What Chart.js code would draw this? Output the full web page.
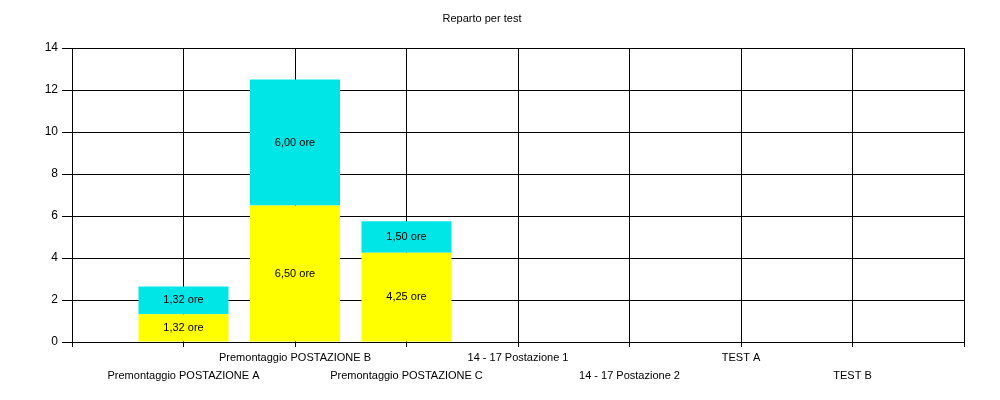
<!DOCTYPE html>
<html lang="it">
<head>
    <meta charset="UTF-8">
    <title>Reparto per test</title>
    <script src="https://cdn.jsdelivr.net/npm/chart.js"></script>
    <style>
        html, body { margin: 0; padding: 0; background: #fff; }
        #wrap { width: 1000px; height: 400px; }
    </style>
</head>
<body>
    <div id="wrap"><canvas id="repartoChart" width="1000" height="400"></canvas></div>

    <script>
        // categories (empty ones pad the axis so gridlines fall on category centres)
        const categories = ['', 'Premontaggio POSTAZIONE A', 'Premontaggio POSTAZIONE B', 'Premontaggio POSTAZIONE C',
            '14 - 17 Postazione 1', '14 - 17 Postazione 2', 'TEST A', 'TEST B', ''];
        const oreGialle = [null, 1.32, 6.50, 4.25, null, null, null, null, null];
        const oreAzzurre = [null, 1.32, 6.00, 1.50, null, null, null, null, null];
        const yTicks = [0, 2, 4, 6, 8, 10, 12, 14];

        // staggered labels: odd index on the lower row, even on the upper
        const xLabels = categories.map((c, i) => (i % 2 === 1) ? ['', c] : [c, '']);

        const fmt = v => v.toFixed(2).replace('.', ',') + ' ore';

        // write the value inside each bar segment
        const segmentLabels = {
            id: 'segmentLabels',
            afterDatasetsDraw(chart) {
                const ctx = chart.ctx;
                ctx.save();
                ctx.font = '11px "Liberation Sans", Arial, sans-serif';
                ctx.fillStyle = '#000';
                ctx.textAlign = 'center';
                ctx.textBaseline = 'middle';
                chart.data.datasets.forEach((ds, di) => {
                    chart.getDatasetMeta(di).data.forEach((bar, i) => {
                        const v = ds.data[i];
                        if (v == null) return;
                        const p = bar.getProps(['x', 'y', 'base'], true);
                        ctx.fillText(fmt(v), p.x, (p.y + p.base) / 2);
                    });
                });
                ctx.restore();
            }
        };

        const ctx = document.getElementById('repartoChart').getContext('2d');
        new Chart(ctx, {
            type: 'bar',
            data: {
                labels: xLabels,
                datasets: [
                    { label: 'A', data: oreGialle, backgroundColor: '#ffff00', barPercentage: 0.807, categoryPercentage: 1 },
                    { label: 'B', data: oreAzzurre, backgroundColor: '#00e6e6', barPercentage: 0.807, categoryPercentage: 1 }
                ]
            },
            options: {
                responsive: false,
                animation: false,
                layout: { padding: { left: 0, right: 36, top: 0, bottom: 0 } },
                plugins: {
                    legend: { display: false },
                    tooltip: { enabled: false },
                    title: {
                        display: true,
                        text: 'Reparto per test',
                        color: '#000',
                        font: { family: '"Liberation Sans", Arial, sans-serif', size: 11, weight: 'normal', lineHeight: '14px' },
                        padding: { top: 12, bottom: 22 }
                    }
                },
                scales: {
                    x: {
                        stacked: true,
                        offset: false,
                        grid: { offset: false, color: '#000', lineWidth: 1, tickLength: 5, tickColor: '#000' },
                        border: { color: '#000' },
                        ticks: {
                            autoSkip: false,
                            maxRotation: 0,
                            minRotation: 0,
                            padding: 2,
                            color: '#000',
                            font: { family: '"Liberation Sans", Arial, sans-serif', size: 11, lineHeight: '18px' }
                        },
                        afterFit(scale) { scale.height = 58; }
                    },
                    y: {
                        stacked: true,
                        min: 0,
                        max: 14,
                        grid: { color: '#000', lineWidth: 1, tickLength: 10, tickColor: '#000' },
                        border: { color: '#000' },
                        afterBuildTicks(scale) { scale.ticks = yTicks.map(v => ({ value: v })); },
                        ticks: {
                            padding: 4,
                            color: '#000',
                            font: { family: '"Liberation Sans", Arial, sans-serif', size: 12 }
                        },
                        afterFit(scale) { scale.width = 72; }
                    }
                }
            },
            plugins: [segmentLabels]
        });
    </script>
</body>
</html>
